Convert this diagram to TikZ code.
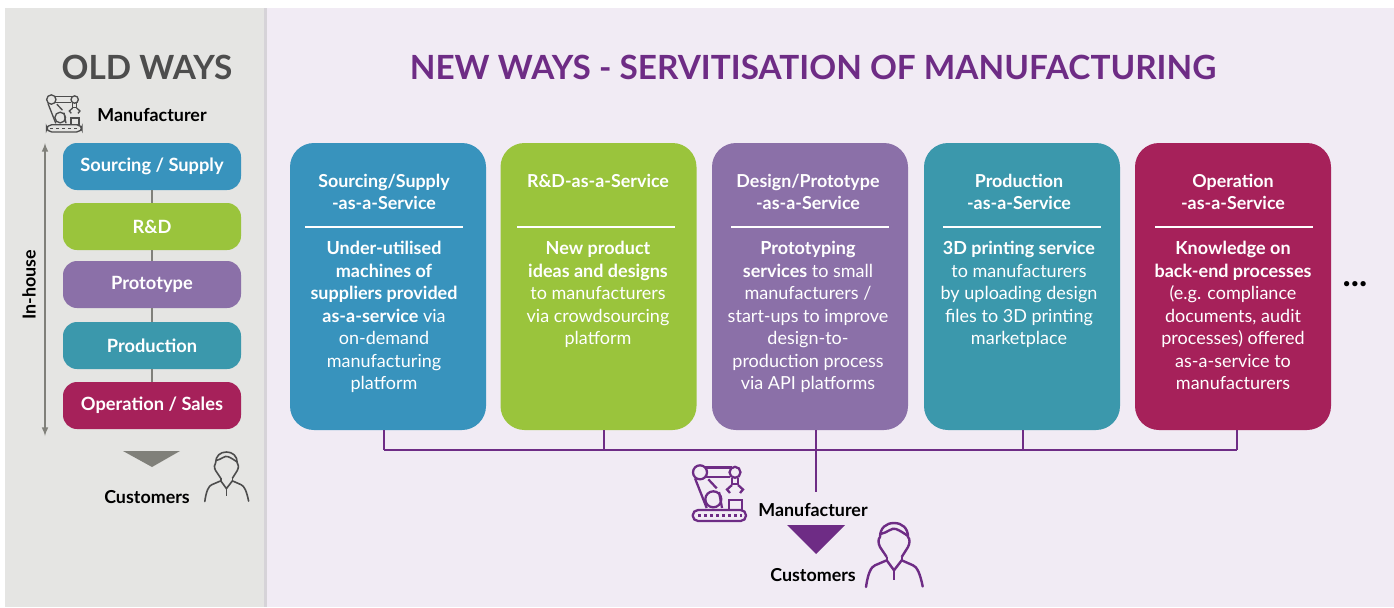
\documentclass[tikz,border=0pt]{standalone}
\usepackage{fontspec}
\usepackage{xcolor}
\setmainfont{Lato}
\definecolor{srcblue}{HTML}{3893BD}
\definecolor{rdgreen}{HTML}{9AC43C}
\definecolor{protopurple}{HTML}{8B70A8}
\definecolor{prodteal}{HTML}{3B98AC}
\definecolor{opcrimson}{HTML}{A6215A}
\definecolor{oldgrey}{HTML}{E5E5E3}
\definecolor{oldedge}{HTML}{D6D3D8}
\definecolor{newlilac}{HTML}{F1EBF4}
\definecolor{darkgrey}{HTML}{4D4D4D}
\definecolor{midgrey}{HTML}{80807A}
\definecolor{newpurple}{HTML}{6E2C85}
\tikzset{
  stepbox/.style={rounded corners=10.5pt,minimum width=133.5pt,minimum height=35.25pt,inner sep=0pt,text=white,font=\fontsize{13.7}{16}\selectfont\bfseries},
  card/.style={rounded corners=18pt,minimum width=147pt,minimum height=215.25pt,inner sep=0pt},
  cardtitle/.style={anchor=north,inner sep=0pt,text=white,align=center,font=\fontsize{13.4}{16.9}\selectfont\bfseries},
  cardbody/.style={anchor=north,inner sep=0pt,text=white,align=center,font=\fontsize{13.5}{16.9}\selectfont},
  who/.style={inner sep=0pt,text=black,font=\fontsize{13.4}{15}\selectfont\bfseries},
  busline/.style={draw=newpurple,line width=2.1pt},
  robot/.pic={
    \draw (8,8.3) circle (7);
    \draw (43,8.3) circle (5.5);
    \draw (13,3.5) -- (40,3.5);
    \draw (14,12.7) -- (38,12.7);
    \draw (3,14.3) -- (14.7,44);
    \draw (16.3,15.3) -- (24.7,24.3);
    \draw (21.3,35.3) circle (8);
    \draw (27,28) -- (30,44);
    \draw[rounded corners=4pt] (0.7,46) rectangle (54,57);
    \draw[dash pattern=on 2pt off 2.5pt] (6,51.5) -- (50,51.5);
    \draw (37.3,46) rectangle (49.7,36);
    \draw (40,13.5) -- (40,20) -- (46,20) -- (46,13.5);
    \draw (38,29) -- (35,25.5) -- (40,21);
    \draw (48,29) -- (51,25.5) -- (46,21);
  },
  person/.pic={
    \draw[line join=round] (21.7,34) -- (15,24) .. controls (13,20) and (13,16) .. (15,14) .. controls (15,5) and (21,0) .. (29,0) .. controls (37,0) and (43,5) .. (43,14) .. controls (45,16) and (45,20) .. (43,24) -- (36.7,34);
    \draw (15.5,11) .. controls (22,10) and (27,4) .. (31,6) .. controls (36,8) and (40,11) .. (43,13);
    \draw[line cap=round] (1,64) .. controls (3,50) and (6,44) .. (10,42.3) -- (21.7,37.3) -- (29,47.3) -- (36.7,37.3) -- (48,42.3) .. controls (52,44) and (55,50) .. (57.7,63.5);
    \draw (21.7,34) -- (21.7,37.3);
    \draw (36.7,34) -- (36.7,37.3);
    \draw (29,47.3) -- (29,56.7);
  }
}
\begin{document}
\begin{tikzpicture}[x=0.75pt,y=-0.75pt]
\useasboundingbox (0,0) rectangle (1394,607);
\fill[oldgrey] (5,8) rectangle (265,607);
\fill[newlilac] (266,8) rectangle (1394,607);
\fill[oldedge] (264,8) rectangle (266.5,607);

\node[inner sep=0pt,text=darkgrey,font=\fontsize{25}{30}\selectfont\bfseries] (oldtitle) at (147,67) {OLD WAYS};
\node[inner sep=0pt,text=newpurple,font=\fontsize{25}{30}\selectfont\bfseries] (newtitle) at (813,67) {NEW WAYS - SERVITISATION OF MANUFACTURING};

% old ways column
\node[who] (oldmaker) at (152,115) {Manufacturer};
\coordinate (oldrobot) at (46,94);
\pic[color=darkgrey,line width=1pt,x=0.5pt,y=-0.5pt] at (oldrobot) {robot};

\node[stepbox,fill=srcblue] (sourcing) at (152,166.5) {Sourcing / Supply};
\node[stepbox,fill=rdgreen] (rd) at (152,226.5) {R\&D};
\node[stepbox,fill=protopurple] (proto) at (152,284.5) {Prototype};
\node[stepbox,fill=prodteal] (prod) at (152,345.5) {Production};
\node[stepbox,fill=opcrimson] (opsales) at (152,405.5) {Operation / Sales};

\draw[midgrey,line width=1.3pt] (sourcing) -- (rd);
\draw[midgrey,line width=1.3pt] (rd) -- (proto);
\draw[midgrey,line width=1.3pt] (proto) -- (prod);
\draw[midgrey,line width=1.3pt] (prod) -- (opsales);

\coordinate (arrtop) at (45,143);
\coordinate (arrbot) at (45,436);
\draw[<->,>=latex,midgrey,line width=1.2pt] (arrbot) -- (arrtop);
\node[rotate=90,who] (inhouse) at (29,285) {In-house};

\fill[midgrey] (123,451) -- (180,451) -- (152,467) -- cycle;
\node[who] (oldcust) at (147,497) {Customers};
\coordinate (oldperson) at (204,452);
\pic[color=darkgrey,line width=1.2pt,x=0.58pt,y=-0.58pt] at (oldperson) {person};

% new ways cards
\node[card,fill=srcblue] (srcsvc) at (388,286.5) {};
\node[card,fill=rdgreen] (rdsvc) at (598.5,286.5) {};
\node[card,fill=protopurple] (protosvc) at (810,286.5) {};
\node[card,fill=prodteal] (prodsvc) at (1022,286.5) {};
\node[card,fill=opcrimson] (opsvc) at (1233,286.5) {};

\node[cardtitle] (srctitle) at (384,173.5) {Sourcing/Supply\\-as-a-Service};
\node[cardtitle] (rdtitle) at (598,173.5) {R\&D-as-a-Service};
\node[cardtitle] (prototitle) at (808,173.5) {Design/Prototype\\-as-a-Service};
\node[cardtitle] (prodtitle) at (1019,173.5) {Production\\-as-a-Service};
\node[cardtitle] (optitle) at (1233,173.5) {Operation\\-as-a-Service};

\draw[white,line width=1.5pt] (305,227) -- (463,227);
\draw[white,line width=1.5pt] (517,227) -- (675,227);
\draw[white,line width=1.5pt] (731,227) -- (889,227);
\draw[white,line width=1.5pt] (943,227) -- (1101,227);
\draw[white,line width=1.5pt] (1155,227) -- (1313,227);

\node[cardbody] (srcbody) at (384,241) {\textbf{Under-utilised}\\\textbf{machines of}\\\textbf{suppliers provided}\\\textbf{as-a-service} via\\on-demand\\manufacturing\\platform};
\node[cardbody] (rdbody) at (598,241) {\textbf{New product}\\\textbf{ideas and designs}\\to manufacturers\\via crowdsourcing\\platform};
\node[cardbody] (protobody) at (808,241) {\textbf{Prototyping}\\\textbf{services} to small\\manufacturers /\\start-ups to improve\\design-to-\\production process\\via API platforms};
\node[cardbody] (prodbody) at (1019,241) {\textbf{3D printing service}\\to manufacturers\\by uploading design\\files to 3D printing\\marketplace};
\node[cardbody] (opbody) at (1233,241) {\textbf{Knowledge on}\\\textbf{back-end processes}\\(e.g. compliance\\documents, audit\\processes) offered\\as-a-service to\\manufacturers};

\node[inner sep=0pt,font=\fontsize{26}{26}\selectfont\bfseries] (more) at (1355,284) {...};

% bus to the manufacturer
\coordinate (bus1) at (384,450);
\coordinate (bus2) at (604,450);
\coordinate (bus3) at (816,450);
\coordinate (bus4) at (1023,450);
\coordinate (bus5) at (1237,450);
\coordinate (busend) at (816,492);
\draw[busline] (bus1) -- (bus5);
\draw[busline] (bus1 |- srcsvc.south) -- (bus1);
\draw[busline] (bus2 |- rdsvc.south) -- (bus2);
\draw[busline] (bus3 |- protosvc.south) -- (busend);
\draw[busline] (bus4 |- prodsvc.south) -- (bus4);
\draw[busline] (bus5 |- opsvc.south) -- (bus5);

\coordinate (newrobot) at (692,464);
\pic[color=newpurple,line width=1.7pt,x=0.75pt,y=-0.75pt] at (newrobot) {robot};
\node[who] (newmaker) at (813,510) {Manufacturer};
\fill[newpurple] (787,525) -- (845,525) -- (816,554) -- cycle;
\node[who] (newcust) at (813,575) {Customers};
\coordinate (newperson) at (865,523);
\pic[color=newpurple,line width=1.8pt,x=0.75pt,y=-0.75pt] at (newperson) {person};
\end{tikzpicture}
\end{document}
